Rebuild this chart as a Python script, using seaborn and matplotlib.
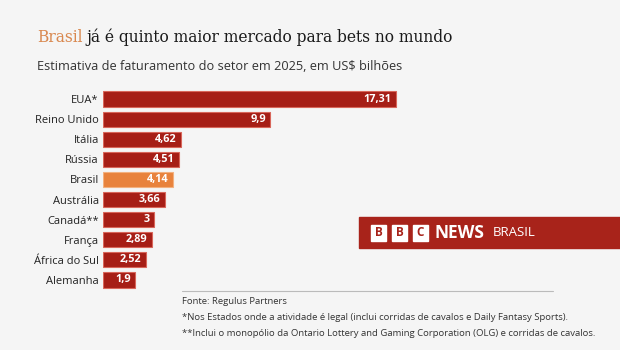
import matplotlib
matplotlib.use("Agg")
import matplotlib.pyplot as plt
import matplotlib.patches as mpatches
import seaborn as sns
import pandas as pd

# Mercado de apostas: faturamento estimado 2025 (US$ bilhões)
paises = ["EUA*", "Reino Unido", "Itália", "Rússia", "Brasil", "Austrália",
          "Canadá**", "França", "África do Sul", "Alemanha"]
valores = [17.31, 9.9, 4.62, 4.51, 4.14, 3.66, 3.0, 2.89, 2.52, 1.9]
rotulos = ["17,31", "9,9", "4,62", "4,51", "4,14", "3,66", "3", "2,89", "2,52", "1,9"]

bg = "#f5f5f5"
vermelho = "#a61e16"
laranja = "#e8823c"
cores = {p: (laranja if p == "Brasil" else vermelho) for p in paises}

df = pd.DataFrame({"pais": paises, "valor": valores})

sns.set_style("white")
plt.rcParams["font.family"] = ["Open Sans", "DejaVu Sans"]

fig = plt.figure(figsize=(6.2, 3.5), dpi=100, facecolor=bg)
ax = fig.add_axes([103 / 620, 1 - 290 / 350, 400 / 620, 201 / 350])
ax.set_facecolor(bg)

sns.barplot(data=df, y="pais", x="valor", hue="pais", palette=cores,
            legend=False, width=0.76, saturation=1, ax=ax, orient="h")
for patch, p in zip(ax.patches, paises):
    patch.set_edgecolor("#d8665a" if p != "Brasil" else "#f3b07e")
    patch.set_linewidth(0.8)

ax.set_xlim(0, 400 / 16.9)
ax.set_ylim(9.5, -0.5)
ax.set_xlabel("")
ax.set_ylabel("")
ax.set_xticks([])
ax.tick_params(axis="y", length=0, pad=3, labelsize=8, labelcolor="#222222")
sns.despine(ax=ax, left=True, bottom=True)

for i, (v, r) in enumerate(zip(valores, rotulos)):
    ax.text(v - 0.25, i, r, ha="right", va="center", color="white",
            fontsize=7.8, fontweight="bold")

# titulo com "Brasil" destacado
serif = ["DejaVu Serif"]
t1 = fig.text(37 / 620, 1 - 37 / 350, "Brasil", color="#d9884f", fontsize=11.2,
              family=serif, va="center")
fig.canvas.draw()
bb = t1.get_window_extent()
x2 = bb.x1 / fig.bbox.width + 4 / 620
fig.text(x2, 1 - 37 / 350, "já é quinto maior mercado para bets no mundo",
         color="#1a1a1a", fontsize=11.2, family=serif, va="center")
fig.text(37 / 620, 1 - 67 / 350, "Estimativa de faturamento do setor em 2025, em US$ bilhões",
         color="#333333", fontsize=9.2, va="center")

# logo BBC News Brasil
fig.patches.append(mpatches.Rectangle((359 / 620, 1 - 248 / 350), 261 / 620, 31 / 350,
                                      transform=fig.transFigure, color="#a8231a"))
for k, letra in enumerate("BBC"):
    x0 = 371 + k * 21
    fig.patches.append(mpatches.Rectangle((x0 / 620, 1 - 240.5 / 350), 15 / 620, 16 / 350,
                                          transform=fig.transFigure, color="white"))
    fig.text((x0 + 7.5) / 620, 1 - 232.5 / 350, letra, color="#a8231a", fontsize=8.5,
             fontweight="bold", ha="center", va="center")
fig.text(434 / 620, 1 - 232.5 / 350, "NEWS", color="white", fontsize=12.5,
         fontweight="bold", va="center")
fig.text(493 / 620, 1 - 233 / 350, "BRASIL", color="white", fontsize=9.5, va="center")

# rodape
fig.add_artist(plt.Line2D([182 / 620, 553 / 620], [1 - 291 / 350, 1 - 291 / 350],
                          color="#bbbbbb", lw=0.8))
fig.text(182 / 620, 1 - 301 / 350, "Fonte: Regulus Partners", fontsize=6.8,
         color="#333333", va="center")
fig.text(182 / 620, 1 - 318 / 350,
         "*Nos Estados onde a atividade é legal (inclui corridas de cavalos e Daily Fantasy Sports).",
         fontsize=6.8, color="#333333", va="center")
fig.text(182 / 620, 1 - 334 / 350,
         "**Inclui o monopólio da Ontario Lottery and Gaming Corporation (OLG) e corridas de cavalos.",
         fontsize=6.8, color="#333333", va="center")

fig.savefig("out.png", dpi=100, facecolor=bg)
